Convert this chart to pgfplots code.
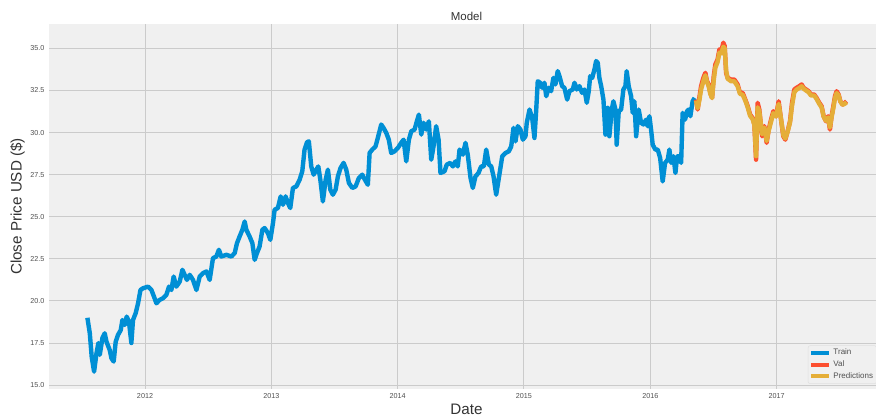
\documentclass[border=0pt]{standalone}
\usepackage{pgfplots}
\pgfplotsset{compat=1.18}
\usepackage{fontspec}
\setmainfont{Liberation Sans}
\definecolor{bgc}{HTML}{F0F0F0}
\definecolor{gridc}{HTML}{CBCBCB}
\definecolor{trainc}{HTML}{008FD5}
\definecolor{valc}{HTML}{FC4F30}
\definecolor{predc}{HTML}{E5AE38}
\definecolor{tickc}{HTML}{505050}
\definecolor{labc}{HTML}{333333}
\begin{document}
\begin{tikzpicture}
\begin{axis}[
  at={(0,0)}, anchor=south west,
  scale only axis,
  width=626.25pt, height=273.75pt,
  xmin=2011.24, xmax=2017.85,
  ymin=14.77, ymax=36.45,
  xtick={2012,2013,2014,2015,2016,2017},
  ytick={15,17.5,20,22.5,25,27.5,30,32.5,35},
  /pgf/number format/assume math mode=true,
  xticklabel style={/pgf/number format/set thousands separator={}, font=\fontsize{5.4}{6}\selectfont, text=tickc},
  yticklabel style={/pgf/number format/.cd, fixed, fixed zerofill, precision=1, /tikz/.cd, font=\fontsize{5.4}{6}\selectfont, text=tickc},
  scaled x ticks=false,
  major tick length=0pt,
  axis line style={draw=none},
  axis background/.style={fill=bgc},
  grid=major,
  major grid style={draw=gridc, line width=0.75pt},
  title={Model},
  title style={at={(axis description cs:0.5,1)}, anchor=center, font=\fontsize{8.6}{10}\selectfont, text=labc},
  xlabel={Date},
  xlabel style={at={(axis description cs:0.5,0)}, anchor=center, yshift=-15pt, font=\fontsize{11.4}{13}\selectfont, text=labc},
  ylabel={Close Price USD (\$)},
  ylabel style={at={(axis description cs:-0.0377,0.5)}, anchor=center, font=\fontsize{11.4}{13}\selectfont, text=labc},
  legend style={at={(1,0)}, anchor=south east, xshift=-5.5pt, yshift=3.75pt,
    fill=bgc, draw=gridc!60, rounded corners=1.5pt, font=\fontsize{6}{7}\selectfont, text=tickc,
    row sep=0pt, inner sep=1pt, nodes={inner sep=1.5pt}},
  legend cell align=left,
  legend image code/.code={\draw[#1, line width=3pt, line cap=butt] (0pt,0pt) -- (13.5pt,0pt);},
  every axis plot/.append style={line width=3.3pt, line join=round},
]
\addplot[trainc, no markers] table[row sep=\\] {
x y\\
2011.544 19.00\\ 2011.563 18.08\\ 2011.578 16.68\\ 2011.597 15.80\\ 2011.616 16.90\\
2011.631 17.50\\ 2011.642 16.80\\ 2011.663 17.80\\ 2011.681 18.08\\ 2011.695 17.58\\
2011.721 17.08\\ 2011.734 16.60\\ 2011.752 16.40\\ 2011.768 17.58\\ 2011.786 17.98\\
2011.808 18.27\\ 2011.821 18.87\\ 2011.839 18.57\\ 2011.855 19.07\\ 2011.873 18.77\\
2011.892 17.50\\ 2011.905 18.87\\ 2011.926 19.27\\ 2011.945 19.86\\ 2011.964 20.65\\
2011.984 20.75\\ 2012.024 20.85\\ 2012.051 20.65\\ 2012.071 20.26\\ 2012.090 19.86\\
2012.116 20.06\\ 2012.142 20.16\\ 2012.169 20.36\\ 2012.190 20.85\\ 2012.209 20.65\\
2012.227 21.45\\ 2012.248 20.85\\ 2012.275 21.15\\ 2012.296 21.85\\ 2012.314 21.55\\
2012.332 21.25\\ 2012.354 21.55\\ 2012.380 21.25\\ 2012.407 20.65\\ 2012.433 21.45\\
2012.459 21.65\\ 2012.486 21.75\\ 2012.512 21.25\\ 2012.538 22.54\\ 2012.565 22.64\\
2012.585 23.04\\ 2012.604 22.64\\ 2012.644 22.74\\ 2012.684 22.64\\ 2012.710 22.84\\
2012.728 23.43\\ 2012.749 23.83\\ 2012.771 24.23\\ 2012.789 24.72\\ 2012.802 24.23\\
2012.828 23.83\\ 2012.850 23.43\\ 2012.868 22.44\\ 2012.886 22.84\\ 2012.907 23.23\\
2012.929 24.23\\ 2012.947 24.33\\ 2012.973 24.03\\ 2012.992 23.63\\ 2013.013 24.62\\
2013.026 25.42\\ 2013.052 25.52\\ 2013.074 26.21\\ 2013.092 25.71\\ 2013.113 26.21\\
2013.131 25.82\\ 2013.150 25.52\\ 2013.171 26.71\\ 2013.198 26.80\\ 2013.224 27.20\\
2013.245 27.70\\ 2013.263 28.99\\ 2013.282 29.42\\ 2013.297 29.48\\ 2013.316 27.99\\
2013.335 27.50\\ 2013.356 27.80\\ 2013.372 27.99\\ 2013.388 27.20\\ 2013.408 25.91\\
2013.430 27.20\\ 2013.448 27.80\\ 2013.467 26.61\\ 2013.487 26.31\\ 2013.509 26.61\\
2013.527 27.40\\ 2013.548 27.90\\ 2013.572 28.20\\ 2013.593 27.80\\ 2013.614 27.01\\
2013.641 26.71\\ 2013.667 26.80\\ 2013.693 27.30\\ 2013.720 27.50\\ 2013.741 27.20\\
2013.764 26.90\\ 2013.778 28.79\\ 2013.799 28.99\\ 2013.825 29.18\\ 2013.843 29.68\\
2013.870 30.48\\ 2013.888 30.28\\ 2013.910 29.98\\ 2013.930 29.58\\ 2013.949 28.79\\
2013.976 28.89\\ 2014.002 29.09\\ 2014.028 29.39\\ 2014.047 29.58\\ 2014.068 28.29\\
2014.089 29.58\\ 2014.108 30.08\\ 2014.134 30.18\\ 2014.152 30.67\\ 2014.168 31.07\\
2014.187 29.88\\ 2014.205 30.58\\ 2014.226 30.18\\ 2014.247 30.67\\ 2014.266 28.39\\
2014.284 29.18\\ 2014.305 30.38\\ 2014.324 29.58\\ 2014.339 27.60\\ 2014.371 27.70\\
2014.389 28.10\\ 2014.416 28.20\\ 2014.437 27.99\\ 2014.458 28.29\\ 2014.476 27.99\\
2014.490 28.99\\ 2014.516 28.69\\ 2014.537 29.39\\ 2014.555 28.69\\ 2014.577 27.30\\
2014.595 26.71\\ 2014.616 27.40\\ 2014.640 27.60\\ 2014.661 27.99\\ 2014.682 27.99\\
2014.701 28.99\\ 2014.722 28.10\\ 2014.741 27.99\\ 2014.759 27.40\\ 2014.780 26.31\\
2014.801 27.30\\ 2014.828 28.59\\ 2014.854 28.79\\ 2014.880 28.89\\ 2014.899 29.18\\
2014.917 30.28\\ 2014.933 29.48\\ 2014.951 30.38\\ 2014.972 30.18\\ 2014.991 29.58\\
2015.012 29.78\\ 2015.022 30.58\\ 2015.044 31.37\\ 2015.065 30.87\\ 2015.083 29.68\\
2015.097 31.37\\ 2015.109 33.05\\ 2015.128 32.96\\ 2015.144 32.66\\ 2015.162 32.96\\
2015.176 32.16\\ 2015.196 32.66\\ 2015.215 32.46\\ 2015.233 33.25\\ 2015.249 32.86\\
2015.267 33.65\\ 2015.281 33.35\\ 2015.302 32.76\\ 2015.320 32.66\\ 2015.342 31.96\\
2015.360 32.46\\ 2015.386 32.56\\ 2015.400 32.96\\ 2015.418 32.56\\ 2015.439 32.76\\
2015.460 32.36\\ 2015.479 32.56\\ 2015.497 31.77\\ 2015.513 32.46\\ 2015.524 33.35\\
2015.540 33.25\\ 2015.558 33.75\\ 2015.571 34.25\\ 2015.584 34.15\\ 2015.597 33.25\\
2015.611 32.76\\ 2015.629 31.96\\ 2015.645 29.88\\ 2015.663 31.47\\ 2015.676 29.78\\
2015.695 31.37\\ 2015.708 31.86\\ 2015.724 31.37\\ 2015.734 29.28\\ 2015.750 31.27\\
2015.769 31.37\\ 2015.787 32.56\\ 2015.803 32.76\\ 2015.813 33.65\\ 2015.829 32.76\\
2015.848 32.16\\ 2015.861 31.17\\ 2015.874 31.86\\ 2015.888 29.78\\ 2015.908 31.37\\
2015.927 30.58\\ 2015.945 30.48\\ 2015.967 30.77\\ 2015.979 30.38\\ 2015.993 30.97\\
2016.006 30.18\\ 2016.019 29.28\\ 2016.040 28.99\\ 2016.059 28.99\\ 2016.078 28.49\\
2016.098 27.10\\ 2016.117 28.20\\ 2016.138 28.39\\ 2016.151 28.99\\ 2016.165 28.20\\
2016.183 28.59\\ 2016.199 27.60\\ 2016.212 28.59\\ 2016.230 28.59\\ 2016.244 28.20\\
2016.256 31.17\\ 2016.275 30.77\\ 2016.291 31.27\\ 2016.304 31.37\\ 2016.317 30.97\\
2016.335 31.86\\ 2016.351 32.06\\
};
\addlegendentry{Train}
\addplot[valc, no markers] table[row sep=\\] {
x y\\
2016.362 31.96\\ 2016.375 31.37\\ 2016.388 32.06\\ 2016.402 32.76\\ 2016.420 33.25\\
2016.436 33.55\\ 2016.449 33.05\\ 2016.462 32.86\\ 2016.475 32.36\\ 2016.489 32.06\\
2016.502 33.35\\ 2016.515 34.05\\ 2016.533 34.35\\ 2016.547 34.94\\ 2016.562 34.84\\
2016.578 35.34\\ 2016.589 35.14\\ 2016.600 33.55\\ 2016.612 33.25\\ 2016.639 33.15\\
2016.665 33.15\\ 2016.691 32.86\\ 2016.710 32.36\\ 2016.731 32.36\\ 2016.752 31.96\\
2016.771 31.57\\ 2016.790 31.07\\ 2016.810 30.87\\ 2016.824 30.48\\ 2016.837 28.39\\
2016.850 31.77\\ 2016.863 31.37\\ 2016.885 29.78\\ 2016.903 30.38\\ 2016.921 29.39\\
2016.937 30.18\\ 2016.956 30.77\\ 2016.974 31.27\\ 2016.995 30.97\\ 2017.016 31.86\\
2017.035 30.77\\ 2017.053 29.78\\ 2017.069 29.58\\ 2017.087 30.08\\ 2017.106 30.67\\
2017.122 31.77\\ 2017.140 32.56\\ 2017.158 32.66\\ 2017.180 32.76\\ 2017.198 32.86\\
2017.214 32.66\\ 2017.233 32.56\\ 2017.253 32.46\\ 2017.272 32.26\\ 2017.298 32.26\\
2017.316 32.06\\ 2017.338 31.77\\ 2017.356 31.57\\ 2017.372 30.97\\ 2017.391 30.67\\
2017.407 30.97\\ 2017.422 30.18\\ 2017.435 30.97\\ 2017.449 31.57\\ 2017.462 32.16\\
2017.475 32.46\\ 2017.491 32.26\\ 2017.504 31.86\\ 2017.522 31.67\\ 2017.541 31.77\\
2017.554 31.86\\
};
\addlegendentry{Val}
\addplot[predc, no markers] table[row sep=\\] {
x y\\
2016.362 31.90\\ 2016.375 31.45\\ 2016.388 31.90\\ 2016.402 32.55\\ 2016.420 33.05\\
2016.436 33.40\\ 2016.449 33.00\\ 2016.462 32.75\\ 2016.475 32.30\\ 2016.489 32.05\\
2016.502 33.10\\ 2016.515 33.85\\ 2016.533 34.20\\ 2016.547 34.75\\ 2016.562 34.70\\
2016.578 35.10\\ 2016.589 35.00\\ 2016.600 33.70\\ 2016.612 33.20\\ 2016.639 33.05\\
2016.665 33.05\\ 2016.691 32.75\\ 2016.710 32.30\\ 2016.731 32.25\\ 2016.752 31.90\\
2016.771 31.50\\ 2016.790 31.00\\ 2016.810 30.80\\ 2016.824 30.45\\ 2016.837 28.60\\
2016.850 31.50\\ 2016.863 31.25\\ 2016.885 29.90\\ 2016.903 30.30\\ 2016.921 29.50\\
2016.937 30.10\\ 2016.956 30.65\\ 2016.974 31.15\\ 2016.995 30.95\\ 2017.016 31.70\\
2017.035 30.80\\ 2017.053 29.85\\ 2017.069 29.65\\ 2017.087 30.05\\ 2017.106 30.60\\
2017.122 31.60\\ 2017.140 32.40\\ 2017.158 32.55\\ 2017.180 32.65\\ 2017.198 32.75\\
2017.214 32.60\\ 2017.233 32.50\\ 2017.253 32.40\\ 2017.272 32.20\\ 2017.298 32.20\\
2017.316 32.00\\ 2017.338 31.70\\ 2017.356 31.50\\ 2017.372 30.95\\ 2017.391 30.70\\
2017.407 30.90\\ 2017.422 30.30\\ 2017.435 30.90\\ 2017.449 31.45\\ 2017.462 32.05\\
2017.475 32.35\\ 2017.491 32.20\\ 2017.504 31.85\\ 2017.522 31.65\\ 2017.541 31.72\\
2017.554 31.80\\
};
\addlegendentry{Predictions}
\end{axis}
\pgfresetboundingbox
\useasboundingbox (-36.75pt,-23.25pt) rectangle (620.25pt,291.75pt);
\end{tikzpicture}
\end{document}
